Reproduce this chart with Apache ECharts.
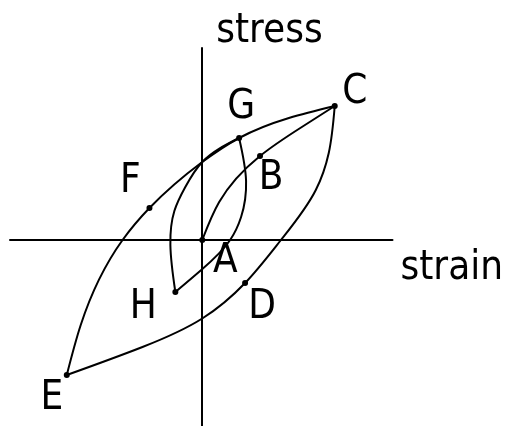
<!DOCTYPE html>
<html>
<head>
<meta charset="utf-8">
<script src="https://cdn.jsdelivr.net/npm/echarts@6/dist/echarts.min.js"></script>
<style>
  html, body { margin: 0; padding: 0; background: #fff; }
  #chart { width: 506px; height: 426px; }
</style>
</head>
<body>
<div id="chart"></div>
<script>
// axis titles
var xName = 'strain';
var yName = 'stress';

// pieces of the loop, [strain, stress]
var loadAC = [[0, 0], [1.7, 3.8], [5.8, 8.4], [10.0, 11.3], [13.3, 13.4]];
var unloadCE = [[13.3, 13.4], [12.7, 8.7], [11.4, 5.0], [7.9, 0], [4.3, -4.3], [0, -7.85],
  [-6.0, -10.7], [-13.6, -13.5]];
var reloadEC = [[-13.6, -13.5], [-12.2, -8.5], [-8.0, 0], [-5.3, 3.2], [0, 7.8],
  [3.7, 10.2], [8.7, 12.2], [13.3, 13.4]];
var unloadGH = [[3.7, 10.2], [4.4, 5.9], [3.9, 2.3], [2.8, 0], [-0.1, -3.0], [-2.7, -5.2]];
var reloadHG = [[-2.7, -5.2], [-3.2, -0.5], [-2.8, 2.9], [-1.7, 5.3], [0, 7.8], [3.7, 10.2]];

// marked points
var pointNames = ['A', 'B', 'C', 'D', 'E', 'F', 'G', 'H'];
var pointX = [0, 5.8, 13.3, 4.3, -13.6, -5.3, 3.7, -2.7];
var pointY = [0, 8.4, 13.4, -4.3, -13.5, 3.2, 10.2, -5.2];

(function () {
  "use strict";

  var font = '"DejaVu Sans Condensed", "DejaVu Sans", sans-serif';
  var curves = [loadAC, unloadCE, reloadEC, unloadGH, reloadHG];

  // where each letter sits next to its dot
  var labelOffset = {
    A: [23, 22], B: [11, 23], C: [20, -13], D: [17, 25],
    E: [-15, 24], F: [-19, -26], G: [2, -30], H: [-32, 16]
  };

  var chart = echarts.init(document.getElementById('chart'));

  // natural cubic spline (chord length knots), second derivatives per coord
  var splineM = function (v, h) {
    var n = v.length, M = new Array(n).fill(0);
    if (n < 3) return M;
    var b = [], d = [];
    for (var i = 1; i < n - 1; i++) {
      b[i] = 2 * (h[i - 1] + h[i]);
      d[i] = 6 * ((v[i + 1] - v[i]) / h[i] - (v[i] - v[i - 1]) / h[i - 1]);
      if (i > 1) {
        var w = h[i - 1] / b[i - 1];
        b[i] -= w * h[i - 1];
        d[i] -= w * d[i - 1];
      }
    }
    M[n - 2] = d[n - 2] / b[n - 2];
    for (var j = n - 3; j >= 1; j--) M[j] = (d[j] - h[j] * M[j + 1]) / b[j];
    return M;
  };

  var renderCurve = function (params, api) {
    var p = curves[params.dataIndex].map(function (d) { return api.coord(d); });
    var n = p.length, h = [];
    for (var i = 0; i < n - 1; i++) {
      h[i] = Math.hypot(p[i + 1][0] - p[i][0], p[i + 1][1] - p[i][1]);
    }
    var xs = p.map(function (q) { return q[0]; });
    var ys = p.map(function (q) { return q[1]; });
    var Mx = splineM(xs, h), My = splineM(ys, h);
    var ctrl = function (v, M, i) {
      var s = (v[i + 1] - v[i]) / h[i];
      var d0 = s - h[i] * (2 * M[i] + M[i + 1]) / 6;
      var d1 = s + h[i] * (M[i] + 2 * M[i + 1]) / 6;
      return [v[i] + d0 * h[i] / 3, v[i + 1] - d1 * h[i] / 3];
    };
    var path = 'M' + xs[0] + ' ' + ys[0];
    for (var k = 0; k < n - 1; k++) {
      var cx = ctrl(xs, Mx, k), cy = ctrl(ys, My, k);
      path += ' C' + cx[0] + ' ' + cy[0] + ' ' + cx[1] + ' ' + cy[1] + ' ' + xs[k + 1] + ' ' + ys[k + 1];
    }
    return {
      type: 'path',
      shape: { pathData: path },
      style: { fill: 'none', stroke: '#000', lineWidth: 2 }
    };
  };

  var points = pointNames.map(function (n, i) {
    return {
      name: n,
      value: [pointX[i], pointY[i]],
      label: { offset: labelOffset[n] }
    };
  });

  var option = {
    animation: false,
    backgroundColor: '#fff',
    grid: { left: 10, right: 112, top: 48, bottom: 0 },
    xAxis: {
      type: 'value',
      min: -19.3,
      max: 19.1,
      name: xName,
      nameLocation: 'end',
      nameGap: 8,
      nameTextStyle: {
        fontFamily: font, fontSize: 40, color: '#000',
        align: 'left', verticalAlign: 'top', padding: [9, 0, 0, 0]
      },
      axisLine: { onZero: true, lineStyle: { color: '#000', width: 2 } },
      axisTick: { show: false },
      axisLabel: { show: false },
      splitLine: { show: false }
    },
    yAxis: {
      type: 'value',
      min: -18.6,
      max: 19.2,
      name: yName,
      nameLocation: 'end',
      nameGap: -4,
      nameTextStyle: {
        fontFamily: font, fontSize: 40, color: '#000',
        align: 'left', verticalAlign: 'bottom', padding: [0, 0, 0, 14]
      },
      axisLine: { onZero: true, lineStyle: { color: '#000', width: 2 } },
      axisTick: { show: false },
      axisLabel: { show: false },
      splitLine: { show: false }
    },
    series: [
      {
        type: 'custom',
        renderItem: renderCurve,
        data: curves.map(function (c) { return [c[0][0], c[0][1]]; }),
        encode: { x: 0, y: 1 },
        silent: true,
        z: 3
      },
      {
        type: 'scatter',
        data: points,
        symbol: 'circle',
        symbolSize: 6,
        itemStyle: { color: '#000', opacity: 1 },
        z: 5,
        label: {
          show: true,
          position: 'inside',
          formatter: '{b}',
          fontFamily: font,
          fontSize: 40,
          color: '#000',
          textBorderWidth: 0,
          align: 'center',
          verticalAlign: 'middle'
        }
      }
    ]
  };

  chart.setOption(option);
})();
</script>
</body>
</html>
